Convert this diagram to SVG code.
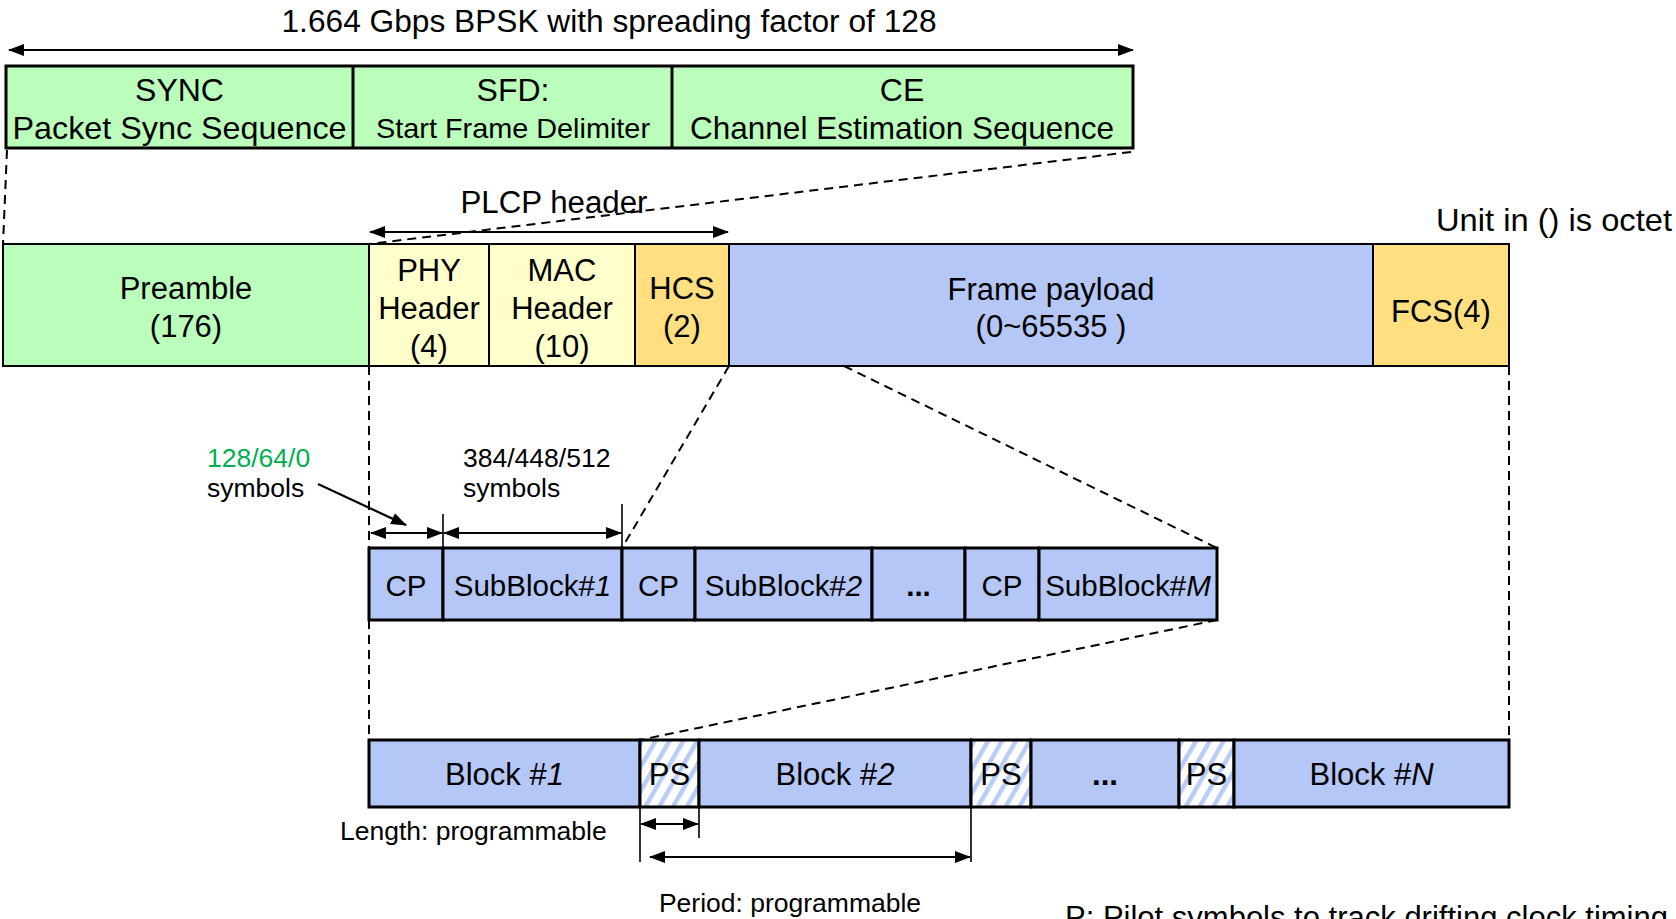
<svg xmlns="http://www.w3.org/2000/svg" width="1676" height="919" viewBox="0 0 1676 919">
<style>
text{font-family:"Liberation Sans",Arial,sans-serif;fill:#000;}
.c{text-anchor:middle;}
.f32{font-size:32px;}
.f31{font-size:31px;}
.f29{font-size:29.5px;}
.f26{font-size:26.5px;}
.green{fill:#BBFDBB;}
.yel{fill:#FFFFCC;}
.org{fill:#FFDF80;}
.blue{fill:#B4C7F7;}
.b3{stroke:#000;stroke-width:3;}
.b2{stroke:#000;stroke-width:2;}
.dash{stroke:#000;stroke-width:2;stroke-dasharray:9 6;fill:none;}
.arr{stroke:#000;stroke-width:2.2;fill:none;marker-start:url(#ah);marker-end:url(#ah);}
.tick{stroke:#000;stroke-width:1.6;}
</style>
<defs>
<marker id="ah" viewBox="0 0 16 12" refX="15" refY="6" markerWidth="16" markerHeight="12" markerUnits="userSpaceOnUse" orient="auto-start-reverse">
<path d="M0,0 L16,6 L0,12 z" fill="#000"/>
</marker>
<pattern id="hatch" patternUnits="userSpaceOnUse" width="12" height="12" patternTransform="rotate(30)">
<rect width="12" height="12" fill="#fff"/>
<rect x="0" y="0" width="4.5" height="12" fill="#B9CCF5"/>
</pattern>
</defs>

<g id="title">
<text class="c f31" x="609" y="32" textLength="655" lengthAdjust="spacingAndGlyphs">1.664 Gbps BPSK with spreading factor of 128</text>
</g>

<g id="preamble-detail">
<rect class="green b3" x="6" y="66" width="1127" height="82"/>
<line class="b3" x1="353" y1="66" x2="353" y2="148"/>
<line class="b3" x1="672" y1="66" x2="672" y2="148"/>
<text class="c f32" x="179.5" y="101">SYNC</text>
<text class="c f32" x="179.5" y="139" textLength="334" lengthAdjust="spacingAndGlyphs">Packet Sync Sequence</text>
<text class="c f32" x="513" y="101">SFD:</text>
<text class="c" style="font-size:28.5px" x="513" y="138" textLength="274" lengthAdjust="spacingAndGlyphs">Start Frame Delimiter</text>
<text class="c f32" x="902" y="101">CE</text>
<text class="c f32" x="902" y="139" textLength="424" lengthAdjust="spacingAndGlyphs">Channel Estimation Sequence</text>
</g>

<g id="plcp-label">
<text class="c f31" x="554" y="213" textLength="187" lengthAdjust="spacingAndGlyphs">PLCP header</text>
</g>
<g id="unit-note">
<text style="font-size:32px" x="1436" y="231" textLength="236" lengthAdjust="spacingAndGlyphs">Unit in () is octet</text>
</g>

<g id="frame">
<g id="preamble"><rect class="green b2" x="3" y="244" width="366" height="122"/>
<text class="c f31" x="186" y="299">Preamble</text><text class="c f31" x="186" y="337">(176)</text></g>
<g id="phy-header"><rect class="yel b2" x="369" y="244" width="120" height="122"/>
<text class="c f31" x="429" y="281">PHY</text><text class="c f31" x="429" y="319">Header</text><text class="c f31" x="429" y="357">(4)</text></g>
<g id="mac-header"><rect class="yel b2" x="489" y="244" width="146" height="122"/>
<text class="c f31" x="562" y="281">MAC</text><text class="c f31" x="562" y="319">Header</text><text class="c f31" x="562" y="357">(10)</text></g>
<g id="hcs"><rect class="org b2" x="635" y="244" width="94" height="122"/>
<text class="c f31" x="682" y="299">HCS</text><text class="c f31" x="682" y="337">(2)</text></g>
<g id="payload"><rect class="blue b2" x="729" y="244" width="644" height="122"/>
<text class="c f31" x="1051" y="300">Frame payload</text><text class="c f31" x="1051" y="337">(0~65535 )</text></g>
<g id="fcs"><rect class="org b2" x="1373" y="244" width="136" height="122"/>
<text class="c f31" x="1441" y="322">FCS(4)</text></g>
</g>

<g id="subblocks">
<g id="cp1"><rect class="blue b3" x="369" y="548" width="74" height="72"/><text class="c f29" x="406" y="596">CP</text></g>
<g id="sb1"><rect class="blue b3" x="443" y="548" width="179" height="72"/><text class="c f29" x="532.5" y="596">SubBlock#<tspan font-style="italic">1</tspan></text></g>
<g id="cp2"><rect class="blue b3" x="622" y="548" width="73" height="72"/><text class="c f29" x="658.5" y="596">CP</text></g>
<g id="sb2"><rect class="blue b3" x="695" y="548" width="177" height="72"/><text class="c f29" x="783.5" y="596">SubBlock#<tspan font-style="italic">2</tspan></text></g>
<g id="sbdots"><rect class="blue b3" x="872" y="548" width="93" height="72"/><text class="c f29" x="918.5" y="596" font-weight="bold">...</text></g>
<g id="cp3"><rect class="blue b3" x="965" y="548" width="74" height="72"/><text class="c f29" x="1002" y="596">CP</text></g>
<g id="sbm"><rect class="blue b3" x="1039" y="548" width="178" height="72"/><text class="c f29" x="1128" y="596">SubBlock#<tspan font-style="italic">M</tspan></text></g>
</g>

<g id="blocks">
<g id="block1"><rect class="blue b3" x="369" y="740" width="271" height="67"/><text class="c f31" x="504.5" y="785">Block #<tspan font-style="italic">1</tspan></text></g>
<g id="ps1"><rect fill="url(#hatch)" class="b3" x="640" y="740" width="59" height="67"/><text class="c f31" x="669.5" y="785">PS</text></g>
<g id="block2"><rect class="blue b3" x="699" y="740" width="272" height="67"/><text class="c f31" x="835" y="785">Block #<tspan font-style="italic">2</tspan></text></g>
<g id="ps2"><rect fill="url(#hatch)" class="b3" x="971" y="740" width="60" height="67"/><text class="c f31" x="1001" y="785">PS</text></g>
<g id="bdots"><rect class="blue b3" x="1031" y="740" width="148" height="67"/><text class="c f31" x="1105" y="785" font-weight="bold">...</text></g>
<g id="ps3"><rect fill="url(#hatch)" class="b3" x="1179" y="740" width="55" height="67"/><text class="c f31" x="1206.5" y="785">PS</text></g>
<g id="blockN"><rect class="blue b3" x="1234" y="740" width="275" height="67"/><text class="c f31" x="1371.5" y="785">Block #<tspan font-style="italic">N</tspan></text></g>
</g>

<g id="annotations">
<text class="f26" x="207" y="467" style="fill:#00B050">128/64/0</text>
<text class="f26" x="207" y="497">symbols</text>
<text class="f26" x="463" y="467">384/448/512</text>
<text class="f26" x="463" y="497">symbols</text>
<text class="f26" x="340" y="840">Length: programmable</text>
<text class="c f26" x="790" y="912">Period: programmable</text>
<text class="f31" x="1065" y="928">P: Pilot symbols to track drifting clock timing</text>
</g>

<g id="connectors">
<line class="arr" x1="9" y1="50" x2="1133" y2="50"/>
<line class="arr" x1="370" y1="232" x2="728" y2="232"/>
<line class="dash" x1="7" y1="150" x2="3" y2="244"/>
<line class="dash" x1="1131" y1="152" x2="369" y2="244"/>
<line class="dash" x1="369" y1="366" x2="369" y2="548"/>
<line class="dash" x1="729" y1="366" x2="622" y2="548"/>
<line class="dash" x1="844" y1="366" x2="1217" y2="548"/>
<line class="dash" x1="1509" y1="366" x2="1509" y2="740"/>
<line class="dash" x1="369" y1="620" x2="369" y2="740"/>
<line class="dash" x1="1217" y1="620" x2="640" y2="740"/>
<line class="tick" x1="443" y1="514" x2="443" y2="548"/>
<line class="tick" x1="622" y1="504" x2="622" y2="548"/>
<line class="arr" x1="371" y1="533" x2="442" y2="533"/>
<line class="arr" x1="444" y1="533" x2="621" y2="533"/>
<line stroke="#000" stroke-width="2.2" x1="318" y1="484" x2="406" y2="525" marker-end="url(#ah)"/>
<line class="tick" x1="640" y1="807" x2="640" y2="862"/>
<line class="tick" x1="699" y1="807" x2="699" y2="838"/>
<line class="tick" x1="971" y1="807" x2="971" y2="862"/>
<line class="arr" x1="641" y1="824" x2="698" y2="824"/>
<line class="arr" x1="650" y1="857" x2="970" y2="857"/>
</g>
</svg>
